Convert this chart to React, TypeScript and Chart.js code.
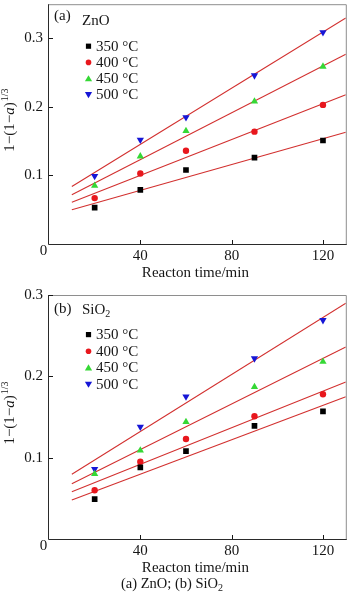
import React, { useEffect, useRef } from 'react';
import { Chart, registerables } from 'chart.js';

Chart.register(...registerables);

const FONT = '"Liberation Serif", "Times New Roman", Times, serif';
const INK = '#161616';
const FIT_COLOR = '#d2302f';
const SERIES_COLORS = ['#000000', '#e8171d', '#35d835', '#1616d6'];
const SERIES_SHAPES = ['rect', 'circle', 'up', 'down'];
const SERIES_LABELS = ['350 °C', '400 °C', '450 °C', '500 °C'];

// x values (reaction time, min)
const reactionTime = [20, 40, 60, 90, 120];
const fitTime = [10, 130];
const xTicks = [40, 80, 120];
const xTitle = 'Reacton time/min';

// (a) ZnO: 1-(1-a)^(1/3)
const zno350 = [0.053, 0.079, 0.108, 0.126, 0.151];
const zno400 = [0.067, 0.103, 0.136, 0.164, 0.203];
const zno450 = [0.085, 0.128, 0.165, 0.208, 0.259];
const zno500 = [0.099, 0.152, 0.185, 0.246, 0.309];
const znoFit350 = [0.050, 0.163];
const znoFit400 = [0.061, 0.218];
const znoFit450 = [0.072, 0.277];
const znoFit500 = [0.084, 0.330];
const yTicksA = [0, 0.1, 0.2, 0.3];

// (b) SiO2
const sio350 = [0.049, 0.088, 0.108, 0.139, 0.157];
const sio400 = [0.060, 0.095, 0.123, 0.151, 0.178];
const sio450 = [0.080, 0.109, 0.144, 0.187, 0.218];
const sio500 = [0.086, 0.138, 0.175, 0.222, 0.269];
const sioFit350 = [0.048, 0.175];
const sioFit400 = [0.058, 0.193];
const sioFit450 = [0.068, 0.236];
const sioFit500 = [0.0795, 0.290];
const yTicksB = [0, 0.1, 0.2, 0.3];

type PanelCfg = {
  height: number;
  padTop: number;
  xAxisH: number;
  yMax: number;
  yTicks: number[];
  tag: string;
  material: string;
  sub: string;
  tagDy: number;
  matDy: number;
  legendDy: number;
  legendStep: number;
  series: number[][];
  fits: number[][];
};

function drawMarker(ctx: CanvasRenderingContext2D, kind: string, x: number, y: number, r: number, color: string) {
  ctx.save();
  ctx.fillStyle = color;
  ctx.beginPath();
  if (kind === 'rect') {
    ctx.rect(x - r, y - r, 2 * r, 2 * r);
  } else if (kind === 'circle') {
    ctx.arc(x, y, r, 0, Math.PI * 2);
  } else if (kind === 'up') {
    ctx.moveTo(x, y - r * 1.15);
    ctx.lineTo(x + r * 1.2, y + r * 0.9);
    ctx.lineTo(x - r * 1.2, y + r * 0.9);
    ctx.closePath();
  } else {
    ctx.moveTo(x, y + r * 1.15);
    ctx.lineTo(x + r * 1.2, y - r * 0.9);
    ctx.lineTo(x - r * 1.2, y - r * 0.9);
    ctx.closePath();
  }
  ctx.fill();
  ctx.restore();
}

function Panel({ cfg, top }: { cfg: PanelCfg; top: number }) {
  const ref = useRef<HTMLCanvasElement | null>(null);
  useEffect(() => {
    if (!ref.current) return;
    const pointStyles: any[] = ['rect', 'circle', 'triangle', 'triangle'];
    const pointRot = [0, 0, 0, 180];
    const pointRad = [4, 3.2, 4.2, 4.2];
    const datasets: any[] = [];
    cfg.fits.forEach((f, i) => {
      datasets.push({
        type: 'line',
        label: 'fit ' + SERIES_LABELS[i],
        data: fitTime.map((x, k) => ({ x, y: f[k] })),
        borderColor: FIT_COLOR,
        borderWidth: 1.1,
        pointRadius: 0,
        fill: false,
        order: 2,
      });
    });
    cfg.series.forEach((s, i) => {
      datasets.push({
        type: 'scatter',
        label: SERIES_LABELS[i],
        data: reactionTime.map((x, k) => ({ x, y: s[k] })),
        backgroundColor: SERIES_COLORS[i],
        borderColor: SERIES_COLORS[i],
        borderWidth: 0,
        pointStyle: pointStyles[i],
        rotation: pointRot[i],
        pointRadius: pointRad[i],
        order: 1,
      });
    });

    const deco = {
      id: 'deco',
      afterDraw(chart: any) {
        const ctx: CanvasRenderingContext2D = chart.ctx;
        const { left, right, top: t, bottom } = chart.chartArea;
        const xs = chart.scales.x;
        const ys = chart.scales.y;
        ctx.save();
        // frame
        ctx.lineWidth = 1;
        ctx.strokeStyle = '#8e8e8e';
        ctx.beginPath();
        ctx.moveTo(left, t + 0.5);
        ctx.lineTo(right + 0.5, t + 0.5);
        ctx.lineTo(right + 0.5, bottom);
        ctx.stroke();
        ctx.strokeStyle = '#2a2a2a';
        ctx.beginPath();
        ctx.moveTo(left - 0.5, t);
        ctx.lineTo(left - 0.5, bottom + 0.5);
        ctx.lineTo(right + 1, bottom + 0.5);
        ctx.stroke();
        // inward ticks
        ctx.strokeStyle = INK;
        ctx.beginPath();
        cfg.yTicks.forEach((v) => {
          if (v === 0) return;
          const py = Math.round(ys.getPixelForValue(v)) + 0.5;
          ctx.moveTo(left, py);
          ctx.lineTo(left + 4, py);
        });
        xTicks.forEach((v) => {
          const px = Math.round(xs.getPixelForValue(v)) + 0.5;
          ctx.moveTo(px, bottom);
          ctx.lineTo(px, bottom - 4);
        });
        ctx.stroke();

        ctx.fillStyle = INK;
        ctx.font = '15px ' + FONT;
        // zero label at the corner
        ctx.textAlign = 'center';
        ctx.textBaseline = 'middle';
        ctx.fillText('0', left - 5.5, bottom + 7);
        // x title
        ctx.fillText(xTitle, (left + right) / 2 - 2, bottom + 29);

        // y title: 1-(1-a)^{1/3}
        const cy = (t + bottom) / 2 - 4;
        ctx.save();
        ctx.translate(13.5, cy);
        ctx.rotate(-Math.PI / 2);
        ctx.textAlign = 'left';
        ctx.textBaseline = 'alphabetic';
        const p1 = '1\u2212(1\u2212';
        const p2 = 'a';
        const p3 = ')';
        const p4 = '1/3';
        ctx.font = '15px ' + FONT;
        const w1 = ctx.measureText(p1).width;
        ctx.font = 'italic 15px ' + FONT;
        const w2 = ctx.measureText(p2).width;
        ctx.font = '15px ' + FONT;
        const w3 = ctx.measureText(p3).width;
        ctx.font = '10px ' + FONT;
        const w4 = ctx.measureText(p4).width;
        let x0 = -(w1 + w2 + w3 + w4 + 1) / 2;
        ctx.font = '15px ' + FONT;
        ctx.fillText(p1, x0, 0);
        x0 += w1;
        ctx.font = 'italic 15px ' + FONT;
        ctx.fillText(p2, x0, 0);
        x0 += w2;
        ctx.font = '15px ' + FONT;
        ctx.fillText(p3, x0, 0);
        x0 += w3 + 1;
        ctx.font = '10px ' + FONT;
        ctx.fillText(p4, x0, -6);
        ctx.restore();

        // panel tag and material
        ctx.font = '15px ' + FONT;
        ctx.textAlign = 'left';
        ctx.textBaseline = 'middle';
        ctx.fillText(cfg.tag, left + 5, t + cfg.tagDy);
        ctx.fillText(cfg.material, left + 33, t + cfg.matDy);
        if (cfg.sub) {
          const mw = ctx.measureText(cfg.material).width;
          ctx.font = '10px ' + FONT;
          ctx.fillText(cfg.sub, left + 33 + mw, t + cfg.matDy + 4);
        }
        // legend
        ctx.font = '15px ' + FONT;
        SERIES_LABELS.forEach((lab, i) => {
          const yy = t + cfg.legendDy + i * cfg.legendStep;
          const r = SERIES_SHAPES[i] === 'rect' ? 2.6 : SERIES_SHAPES[i] === 'circle' ? 2.8 : 3;
          drawMarker(ctx, SERIES_SHAPES[i], left + 39.5, yy, r, SERIES_COLORS[i]);
          ctx.fillStyle = INK;
          ctx.fillText(lab, left + 47, yy + 0.5);
        });
        ctx.restore();
      },
    };

    const chart = new Chart(ref.current, {
      type: 'scatter',
      data: { datasets },
      options: {
        animation: false,
        responsive: false,
        devicePixelRatio: 1,
        layout: { padding: { top: cfg.padTop, right: 1, left: 0, bottom: 0 } },
        plugins: { legend: { display: false }, tooltip: { enabled: false }, title: { display: false } },
        scales: {
          x: {
            type: 'linear',
            min: 0,
            max: 130,
            afterBuildTicks: (s: any) => {
              s.ticks = xTicks.map((v) => ({ value: v }));
            },
            afterFit: (s: any) => {
              s.height = cfg.xAxisH;
              s.paddingLeft = 0;
              s.paddingRight = 0;
            },
            grid: { display: false, drawTicks: false },
            border: { display: false },
            ticks: {
              color: INK,
              font: { family: FONT, size: 15 },
              padding: 3,
              maxRotation: 0,
              autoSkip: false,
              callback: (v: any) => String(v),
            },
          },
          y: {
            type: 'linear',
            min: 0,
            max: cfg.yMax,
            afterBuildTicks: (s: any) => {
              s.ticks = cfg.yTicks.map((v) => ({ value: v }));
            },
            afterFit: (s: any) => {
              s.width = 49;
              s.paddingTop = 0;
              s.paddingBottom = 0;
            },
            grid: { display: false, drawTicks: false },
            border: { display: false },
            ticks: {
              color: INK,
              font: { family: FONT, size: 15 },
              padding: 6,
              autoSkip: false,
              callback: (v: any) => (v === 0 ? '' : Number(v).toFixed(1)),
            },
          },
        },
      },
      plugins: [deco],
    } as any);
    return () => chart.destroy();
  }, [cfg]);
  return (
    <canvas
      ref={ref}
      width={350}
      height={cfg.height}
      style={{ position: 'absolute', left: 0, top, width: 350, height: cfg.height, display: 'block' }}
    />
  );
}

const panelA: PanelCfg = {
  height: 285,
  padTop: 1,
  xAxisH: 41,
  yMax: 0.35,
  yTicks: yTicksA,
  tag: '(a)',
  material: 'ZnO',
  sub: '',
  tagDy: 12,
  matDy: 17,
  legendDy: 42,
  legendStep: 16.2,
  series: [zno350, zno400, zno450, zno500],
  fits: [znoFit350, znoFit400, znoFit450, znoFit500],
};

const panelB: PanelCfg = {
  height: 310,
  padTop: 10,
  xAxisH: 56,
  yMax: 0.3,
  yTicks: yTicksB,
  tag: '(b)',
  material: 'SiO',
  sub: '2',
  tagDy: 14,
  matDy: 15.5,
  legendDy: 39.6,
  legendStep: 16.6,
  series: [sio350, sio400, sio450, sio500],
  fits: [sioFit350, sioFit400, sioFit450, sioFit500],
};

export default function App() {
  return (
    <div style={{ position: 'absolute', left: 0, top: 0, width: 350, height: 595, background: '#fff', overflow: 'hidden' }}>
      <Panel cfg={panelA} top={0} />
      <Panel cfg={panelB} top={285} />
      <div
        style={{
          position: 'absolute',
          left: 0,
          top: 576,
          width: 344,
          textAlign: 'center',
          fontFamily: FONT,
          fontSize: 14.5,
          lineHeight: '15px',
          color: INK,
          whiteSpace: 'nowrap',
        }}
      >
        (a) ZnO; (b) SiO<sub style={{ fontSize: 10, verticalAlign: -3, lineHeight: 0 }}>2</sub>
      </div>
    </div>
  );
}
